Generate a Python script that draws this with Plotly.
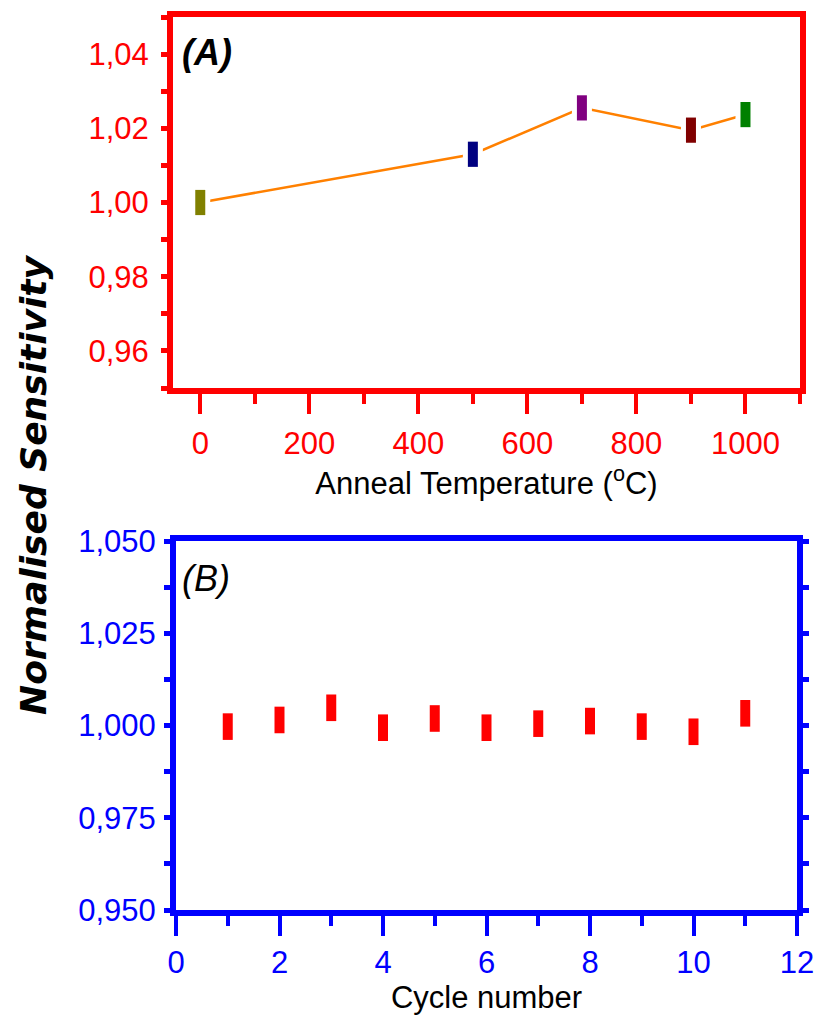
import plotly.graph_objects as go

# Panel A: sensitivity after annealing
anneal_temp = [0, 500, 700, 900, 1000]
anneal_sens = [1.000, 1.013, 1.0255, 1.0195, 1.0237]
anneal_colors = ["#808000", "#000080", "#800080", "#800000", "#008000"]

# Panel B: sensitivity over repeated cycles
cycles = [1, 2, 3, 4, 5, 6, 7, 8, 9, 10, 11]
cycle_sens = [0.9997, 1.0015, 1.0048, 0.9994, 1.0019, 0.9994,
              1.0005, 1.0012, 0.9997, 0.9983, 1.0033]

RED = "#FF0000"
BLUE = "#0000FF"
SANS = "Liberation Sans, Arial"

W, H = 815, 1021


def xdom(a, b):
    return [a / W, b / W]


def ydom(top, bottom):
    return [1 - bottom / H, 1 - top / H]


fig = go.Figure()

# orange connecting line
fig.add_trace(go.Scatter(
    x=anneal_temp, y=anneal_sens, mode="lines",
    line=dict(color="#FF8000", width=2.5),
    xaxis="x", yaxis="y", showlegend=False, hoverinfo="skip"))
# white halo so the line stops short of each marker
fig.add_trace(go.Scatter(
    x=anneal_temp, y=anneal_sens, mode="markers",
    marker=dict(symbol="line-ns", size=18,
                line=dict(color="white", width=20)),
    xaxis="x", yaxis="y", showlegend=False, hoverinfo="skip"))
fig.add_trace(go.Scatter(
    x=anneal_temp, y=anneal_sens, mode="markers",
    marker=dict(symbol="line-ns", size=18,
                line=dict(color=anneal_colors, width=10)),
    xaxis="x", yaxis="y", showlegend=False))

fig.add_trace(go.Scatter(
    x=cycles, y=cycle_sens, mode="markers",
    marker=dict(symbol="line-ns", size=19,
                line=dict(color=RED, width=10)),
    xaxis="x2", yaxis="y2", showlegend=False))

tick_font_a = dict(family=SANS, size=31, color=RED)
tick_font_b = dict(family=SANS, size=31, color=BLUE)
title_font = dict(family=SANS, size=31, color="black")

common = dict(showgrid=False, zeroline=False, automargin=False)

fig.update_layout(
    width=W, height=H,
    margin=dict(l=0, r=0, t=0, b=0, autoexpand=False),
    paper_bgcolor="white", plot_bgcolor="white",
    separators=",.",
    xaxis=dict(
        domain=xdom(173, 800), anchor="y",
        range=[-50, 1100], tickvals=[0, 200, 400, 600, 800, 1000],
        tickformat="d",
        showline=True, linecolor=RED, linewidth=6, mirror=True,
        ticks="outside", ticklen=20, tickwidth=4, tickcolor=RED,
        minor=dict(tickvals=[100, 300, 500, 700, 900, 1100], ticks="outside",
                   ticklen=10, tickwidth=4, tickcolor=RED),
        tickfont=tick_font_a, ticklabelstandoff=3,
        title=dict(text="Anneal Temperature (<sup>o</sup>C)", font=title_font,
                   standoff=10),
        **common,
    ),
    yaxis=dict(
        domain=ydom(17, 388), anchor="x",
        range=[0.95, 1.05], tickvals=[0.96, 0.98, 1.00, 1.02, 1.04],
        tickformat=".2f",
        showline=True, linecolor=RED, linewidth=6, mirror=True,
        ticks="outside", ticklen=6, tickwidth=5, tickcolor=RED,
        minor=dict(tickvals=[0.95, 0.97, 0.99, 1.01, 1.03, 1.05],
                   ticks="outside", ticklen=6, tickwidth=5, tickcolor=RED),
        tickfont=tick_font_a, ticklabelstandoff=6,
        **common,
    ),
    xaxis2=dict(
        domain=xdom(176, 797), anchor="y2",
        range=[0, 12], tickvals=[0, 2, 4, 6, 8, 10, 12],
        showline=True, linecolor=BLUE, linewidth=6, mirror=True,
        ticks="outside", ticklen=20, tickwidth=4, tickcolor=BLUE,
        minor=dict(tickvals=[1, 3, 5, 7, 9, 11], ticks="outside",
                   ticklen=10, tickwidth=4, tickcolor=BLUE),
        tickfont=tick_font_b,
        title=dict(text="Cycle number", font=title_font, standoff=0),
        **common,
    ),
    yaxis2=dict(
        domain=ydom(541, 910), anchor="x2",
        range=[0.95, 1.05], tickvals=[0.95, 0.975, 1.0, 1.025, 1.05],
        tickformat=".3f",
        showline=True, linecolor=BLUE, linewidth=6, mirror="allticks",
        ticks="outside", ticklen=6, tickwidth=5, tickcolor=BLUE,
        minor=dict(tickvals=[0.9625, 0.9875, 1.0125, 1.0375],
                   ticks="outside", ticklen=6, tickwidth=5, tickcolor=BLUE),
        tickfont=tick_font_b, ticklabelstandoff=2,
        **common,
    ),
    annotations=[
        dict(text="<b><i>(A)</i></b>", xref="paper", yref="paper",
             x=180 / W, y=1 - 30 / H, xanchor="left", yanchor="top",
             showarrow=False, font=dict(family=SANS, size=36, color="black")),
        dict(text="<i>(B)</i>", xref="paper", yref="paper",
             x=180 / W, y=1 - 556 / H, xanchor="left", yanchor="top",
             showarrow=False, font=dict(family=SANS, size=36, color="black")),
        dict(text="<b><i>Normalised Sensitivity</i></b>", xref="paper",
             yref="paper", x=33 / W, y=1 - 485 / H, xanchor="center",
             yanchor="middle", textangle=-90, showarrow=False,
             font=dict(family="DejaVu Sans", size=36, color="black")),
    ],
)

fig.write_html("out.html")
